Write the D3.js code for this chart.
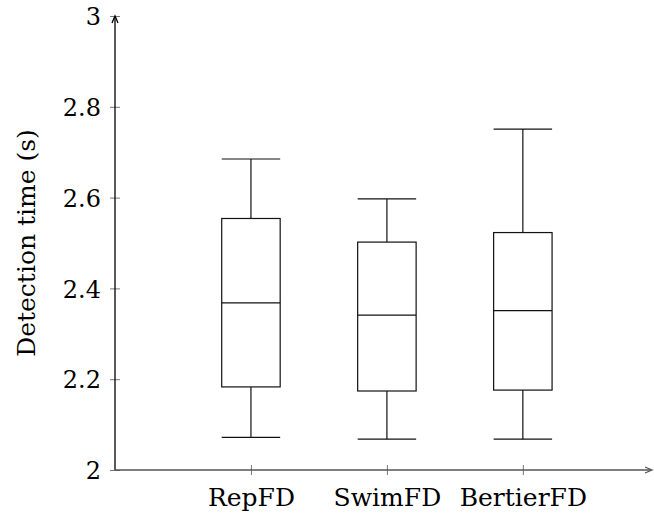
<!DOCTYPE html>
<html>
<head>
<meta charset="utf-8">
<script src="https://cdn.jsdelivr.net/npm/d3@7"></script>
<style>
  body { margin: 0; background: #fff; }
  svg text { font-family: "DejaVu Serif", "Liberation Serif", serif; fill: #000; }
</style>
</head>
<body>
<div id="container"></div>
<script>
/* CONSTANTS AND GLOBALS */
const width = 654,
  height = 516,
  margin = { top: 16, bottom: 46, left: 115, right: 2 };

// box plot values
const categories = ["RepFD", "SwimFD", "BertierFD"];
const positions = [1, 2, 3];
const lowerWhisker = [2.072, 2.068, 2.068];
const lowerQuartile = [2.183, 2.174, 2.176];
const median = [2.368, 2.341, 2.351];
const upperQuartile = [2.554, 2.502, 2.523];
const upperWhisker = [2.685, 2.597, 2.751];
const yTicks = [2, 2.2, 2.4, 2.6, 2.8, 3];

const boxHalf = 0.215; // half box width in x units
const serif = '"DejaVu Serif", "Liberation Serif", serif';

const data = categories.map((c, i) => ({
  name: c,
  pos: positions[i],
  lw: lowerWhisker[i],
  q1: lowerQuartile[i],
  med: median[i],
  q3: upperQuartile[i],
  uw: upperWhisker[i]
}));

/* SCALES */
const xScale = d3.scaleLinear()
  .domain([0, 3.95])
  .range([margin.left, width - margin.right]);

const yScale = d3.scaleLinear()
  .domain([2, 3])
  .range([height - margin.bottom, margin.top]);

/* SVG */
const svg = d3.select("#container")
  .append("svg")
  .attr("width", width)
  .attr("height", height)
  .attr("font-family", serif);

// + AXES (ticks cross the axis line, pgfplots style)
const yAxis = d3.axisLeft(yScale)
  .tickValues(yTicks)
  .tickFormat(d3.format("~g"))
  .tickSizeInner(5)
  .tickSizeOuter(0);

const yAxisGroup = svg.append("g")
  .attr("transform", `translate(${margin.left}, 0)`)
  .call(yAxis)
  .attr("font-family", serif);
yAxisGroup.select(".domain").remove();
yAxisGroup.selectAll(".tick line")
  .attr("x2", -5).attr("x1", 5)
  .attr("stroke", "#777").attr("stroke-width", 1);
yAxisGroup.selectAll(".tick text")
  .attr("x", -14)
  .attr("dy", "0.36em")
  .attr("font-family", serif)
  .style("font-size", "24px");

const xAxis = d3.axisBottom(xScale)
  .tickValues(positions)
  .tickFormat((d, i) => categories[i])
  .tickSizeInner(5)
  .tickSizeOuter(0);

const xAxisGroup = svg.append("g")
  .attr("transform", `translate(0, ${yScale(2)})`)
  .call(xAxis)
  .attr("font-family", serif);
xAxisGroup.select(".domain").remove();
xAxisGroup.selectAll(".tick line")
  .attr("y1", -5).attr("y2", 5)
  .attr("stroke", "#777").attr("stroke-width", 1);
xAxisGroup.selectAll(".tick text")
  .attr("y", 36)
  .attr("dy", 0)
  .attr("font-family", serif)
  .style("font-size", "25px");

// axis lines with small arrow heads
const axisLines = svg.append("g")
  .attr("stroke", "#000")
  .attr("stroke-width", 1.3)
  .attr("fill", "none");

axisLines.append("line")
  .attr("x1", margin.left).attr("x2", margin.left)
  .attr("y1", yScale(2)).attr("y2", margin.top + 1);
axisLines.append("path")
  .attr("d", `M${margin.left - 3},${margin.top + 7} L${margin.left},${margin.top} L${margin.left + 3},${margin.top + 7}`)
  .attr("stroke-width", 1.3);

axisLines.append("line")
  .attr("x1", margin.left).attr("x2", width - margin.right - 1)
  .attr("y1", yScale(2)).attr("y2", yScale(2))
  .attr("stroke", "#555");
axisLines.append("path")
  .attr("d", `M${width - margin.right - 7},${yScale(2) - 3} L${width - margin.right},${yScale(2)} L${width - margin.right - 7},${yScale(2) + 3}`)
  .attr("stroke", "#555");

// y label
svg.append("text")
  .attr("transform", `translate(35, ${(yScale(2) + yScale(3)) / 2}) rotate(-90)`)
  .attr("text-anchor", "middle")
  .attr("font-family", serif)
  .style("font-size", "25px")
  .text("Detection time (s)");

/* BOXES */
const boxes = svg.selectAll("g.box")
  .data(data)
  .join("g")
  .attr("class", "box")
  .attr("stroke", "#111")
  .attr("stroke-width", 1.2)
  .attr("fill", "none");

boxes.append("rect")
  .attr("x", d => xScale(d.pos - boxHalf))
  .attr("width", d => xScale(d.pos + boxHalf) - xScale(d.pos - boxHalf))
  .attr("y", d => yScale(d.q3))
  .attr("height", d => yScale(d.q1) - yScale(d.q3));

boxes.append("line")
  .attr("x1", d => xScale(d.pos - boxHalf))
  .attr("x2", d => xScale(d.pos + boxHalf))
  .attr("y1", d => yScale(d.med))
  .attr("y2", d => yScale(d.med));

// whiskers
boxes.append("line")
  .attr("x1", d => xScale(d.pos)).attr("x2", d => xScale(d.pos))
  .attr("y1", d => yScale(d.q3)).attr("y2", d => yScale(d.uw));
boxes.append("line")
  .attr("x1", d => xScale(d.pos)).attr("x2", d => xScale(d.pos))
  .attr("y1", d => yScale(d.q1)).attr("y2", d => yScale(d.lw));

// whisker caps
boxes.append("line")
  .attr("x1", d => xScale(d.pos - boxHalf))
  .attr("x2", d => xScale(d.pos + boxHalf))
  .attr("y1", d => yScale(d.uw)).attr("y2", d => yScale(d.uw));
boxes.append("line")
  .attr("x1", d => xScale(d.pos - boxHalf))
  .attr("x2", d => xScale(d.pos + boxHalf))
  .attr("y1", d => yScale(d.lw)).attr("y2", d => yScale(d.lw));
</script>
</body>
</html>
